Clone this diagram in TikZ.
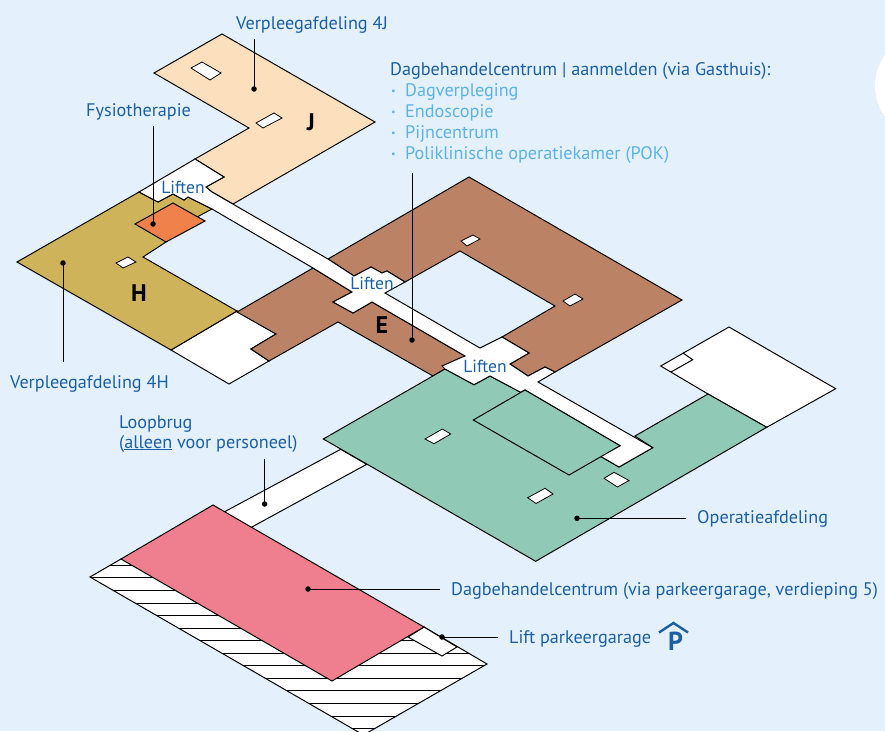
\documentclass[tikz,border=0pt]{standalone}
\usepackage{fontspec}
\setmainfont{PT Sans}
\definecolor{bgc}{HTML}{E4F0FB}
\definecolor{txtc}{HTML}{1B5FA5}
\definecolor{lblue}{HTML}{5CB3E8}
\definecolor{jc}{HTML}{FCDFBC}
\definecolor{hc}{HTML}{CFB35A}
\definecolor{oc}{HTML}{F0814A}
\definecolor{ec}{HTML}{BB8265}
\definecolor{gc}{HTML}{90C9B6}
\definecolor{pc}{HTML}{EF7F8E}
\tikzset{
  floor/.style={draw=black,line width=1pt,line join=miter},
  hole/.style={draw=black,fill=white,line width=.8pt},
  lbl/.style={text=txtc,font=\fontsize{18.2}{20}\selectfont,inner sep=0pt,anchor=base west},
  item/.style={text=lblue,font=\fontsize{18.2}{20}\selectfont,inner sep=0pt,anchor=base west},
  bul/.style={text=lblue,font=\fontsize{10}{12}\selectfont,inner sep=0pt,anchor=base west},
  lift/.style={text=txtc,font=\fontsize{17.5}{20}\selectfont,inner sep=0pt},
  wing/.style={text=black,font=\fontsize{24}{26}\selectfont\bfseries,inner sep=0pt},
  pin/.style={circle,fill=black,minimum size=5.5pt,inner sep=0pt},
  leader/.style={draw=black,line width=.9pt}
}
\begin{document}
\begin{tikzpicture}[x=1pt,y=-1pt]
\useasboundingbox (0,0) rectangle (885,731);
\clip (0,0) rectangle (885,731);
\fill[bgc] (0,0) rectangle (885,731);
\fill[white] (928,86) circle (53);

% footbridge
\draw[floor,fill=white] (340.7,449.3) -- (220,514.2) -- (246,530.2) -- (366.7,464.3) -- cycle;

% hatched base
\fill[white] (90,577) -- (121,559) -- (424,627) -- (487,664) -- (363.5,735) -- cycle;
\begin{scope}
\clip (90,577) -- (121,559) -- (424,627) -- (487,664) -- (363.5,735) -- cycle;
\foreach \yy in {565.3,577.8,590.4,603,615.6,628.1,640.7,653.3,665.8,678.4,690.9,703.5,716,728.6}
  \draw[black,line width=1pt] (80,\yy) -- (500,\yy);
\end{scope}
\draw[floor] (121,559) -- (90,577) -- (363.5,735) -- (487,664) -- (424,627);
\draw[floor,fill=white] (424,627) -- (408,637) -- (442,656) -- (457,647) -- cycle;
\draw[floor,fill=pc] (213,505) -- (121,559) -- (332,681) -- (424,627) -- cycle;

% J wing
\draw[floor,fill=jc] (222,34) -- (375,122) -- (233,204) -- (212,192) -- (206,187) -- (224,177) -- (195,159) -- (249,128) -- (154,73) -- cycle;
\draw[hole] (191,68) -- (202,62) -- (221,73) -- (210,80) -- cycle;
\draw[hole] (256,123) -- (274,113) -- (282,118) -- (263,128) -- cycle;

% H wing
\draw[floor,fill=white] (171,350) -- (237,311) -- (276,334) -- (251,349) -- (269,361) -- (229,384) -- cycle;
\draw[floor,fill=hc] (139,192) -- (17,262) -- (171,350) -- (237,311) -- (143,257) -- (166,242) -- (197,217) -- (212,209) -- (188,197) -- (184,200) -- (173,194) -- (158,202) -- cycle;
\draw[floor,fill=oc] (135,224) -- (173,203) -- (205,221) -- (166,242) -- cycle;
\draw[hole] (116,263) -- (128,257) -- (136,262) -- (123,268) -- cycle;

% E wing
\draw[floor,fill=ec] (469,177) -- (682,300) -- (555,372) -- (545,367) -- (528,376) -- (510,364) -- (529,353) -- (502,337) -- (555,306) -- (460,251) -- (405,282) -- (387,271) -- (382,273) -- (371,267) -- (354,276) -- (328,259) -- cycle;
\draw[floor,fill=ec] (313,268) -- (237,312) -- (276,334) -- (251,349) -- (269,361) -- (338,322) -- (433,376) -- (445,369) -- (465,356) -- (372,302) -- (353,313) -- (333,302) -- (352,292) -- cycle;
\draw[hole] (461,241) -- (473,235) -- (480,239) -- (467,246) -- cycle;
\draw[hole] (563,301) -- (575,294) -- (583,299) -- (570,306) -- cycle;

% white block right
\draw[floor,fill=white] (708,394) -- (660.7,366) -- (729,327) -- (835.7,388.7) -- (766.7,427.3) -- cycle;
\draw[floor] (671,372) -- (692.7,359.7) -- (683,353);

% green floor
\draw[floor,fill=gc] (323.3,439) -- (445,369) -- (474,384.7) -- (490,376) -- (520.7,392.3) -- (600,456) -- (619,467) -- (652.7,447.7) -- (635,436) -- (708,394) -- (766.7,427.3) -- (535.7,561.3) -- cycle;
\draw[hole] (425,439) -- (442.3,429) -- (450.7,434) -- (434,443.7) -- cycle;
\draw[hole] (527.7,497.7) -- (545,488.3) -- (553,494) -- (536,503.5) -- cycle;
\draw[hole] (604,478.3) -- (614,472.3) -- (629,480.5) -- (617.5,487) -- cycle;

% corridor with lift lobbies
\draw[floor,fill=white] (139,192) -- (195,159) -- (224,177) -- (206,187) -- (212,192) -- (328,259) -- (354,276) -- (371,267) -- (382,273) -- (387,271) -- (405,282) -- (385,293) -- (480,348) -- (502,337) -- (529,353) -- (510,364) -- (528,376) -- (545,367) -- (555,372) -- (538,382) -- (652.7,447.7) -- (619,467) -- (600,456) -- (620,445.7) -- (525,390) -- (520.7,392.3) -- (490,376) -- (474,384.7) -- (445,369) -- (442,366) -- (460,358) -- (465,356) -- (372,302) -- (353,313) -- (333,302) -- (352,292) -- (313,268) -- (212,209) -- (188,197) -- (184,200) -- (173,194) -- (158,202) -- cycle;
\draw[floor,fill=gc] (525,390) -- (473.3,420) -- (569,475) -- (620,445.7) -- cycle;

% wing letters
\node[wing] (wj) at (311,122) {J};
\node[wing] (wh) at (139,293) {H};
\node[wing] (we) at (382,325) {E};

% lift labels
\node[lift] (l1) at (183,187) {Liften};
\node[lift] (l2) at (372,283) {Liften};
\node[lift] (l3) at (485,366) {Liften};

% texts
\node[lbl] (t4j) at (236,29.5) {Verpleegafdeling 4J};
\node[lbl] (tf) at (86,116) {Fysiotherapie};
\node[lbl] (t4h) at (10,388) {Verpleegafdeling 4H};
\node[lbl] (tdb) at (390,75.7) {Dagbehandelcentrum | aanmelden (via Gasthuis):};
\node[bul] (i1) at (391,94) {•};
\node[item] (i1t) at (405,96) {Dagverpleging};
\node[bul] (i2) at (391,115) {•};
\node[item] (i2t) at (405,117) {Endoscopie};
\node[bul] (i3) at (391,136) {•};
\node[item] (i3t) at (405,138) {Pijncentrum};
\node[bul] (i4) at (391,157) {•};
\node[item] (i4t) at (405,159) {Poliklinische operatiekamer (POK)};
\node[lbl] (tl1) at (119,428) {Loopbrug};
\node[lbl] (tl2) at (119,448) {(\underline{alleen} voor personeel)};
\node[lbl] (top) at (697,523.5) {Operatieafdeling};
\node[lbl] (tdc) at (451,595) {Dagbehandelcentrum (via parkeergarage, verdieping 5)};
\node[lbl] (tlp) at (509,643) {Lift parkeergarage};
\node[text=txtc,font=\fontsize{26}{28}\selectfont\bfseries,inner sep=0pt,anchor=base] (pp) at (675.5,650) {P};
\draw[txtc,line width=2.4pt] (659,632.5) -- (673.5,623) -- (688,632.5);

% pins and leaders
\node[pin] (p4j) at (254,89) {};
\node[pin] (pf) at (153,224) {};
\node[pin] (p4h) at (63,263) {};
\node[pin] (pdb) at (412,340) {};
\node[pin] (pop) at (577,518.3) {};
\node[pin] (plb) at (264.6,504) {};
\node[pin] (pdc) at (308,589) {};
\node[pin] (plp) at (442,637) {};
\coordinate (e4j) at (254,39);
\coordinate (ef) at (153,126);
\coordinate (e4h) at (63,362);
\coordinate (edb) at (412,173);
\coordinate (eop) at (686,518.3);
\coordinate (elb) at (264.6,459);
\coordinate (edc) at (440,589);
\coordinate (elp) at (498,637);
\draw[leader] (p4j.center) -- (e4j);
\draw[leader] (pf.center) -- (ef);
\draw[leader] (p4h.center) -- (e4h);
\draw[leader] (pdb.center) -- (edb);
\draw[leader] (pop.center) -- (eop);
\draw[leader] (plb.center) -- (elb);
\draw[leader] (pdc.center) -- (edc);
\draw[leader] (plp.center) -- (elp);
\end{tikzpicture}
\end{document}
